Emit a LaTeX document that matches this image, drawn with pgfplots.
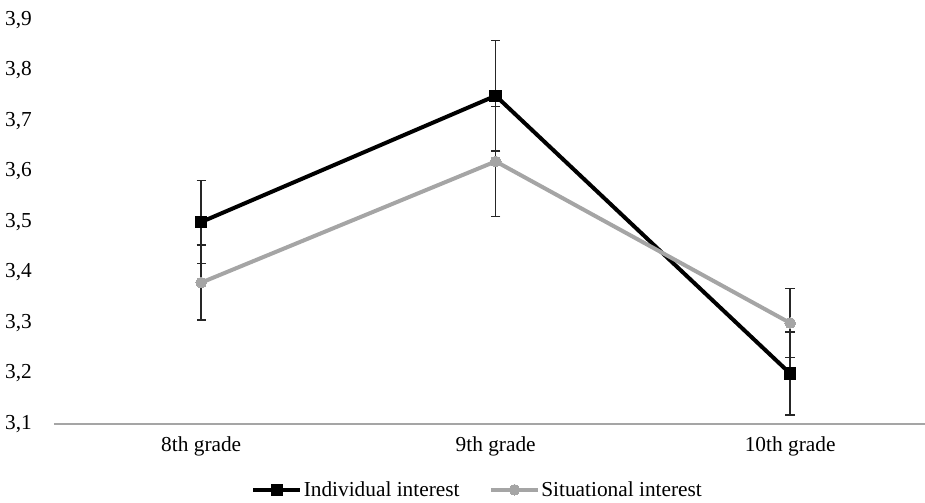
\documentclass[border=0pt]{standalone}
\usepackage{pgfplots}
\pgfplotsset{compat=1.18}
\usepackage{fontspec}
\setmainfont{Liberation Serif}
\definecolor{sgray}{HTML}{A5A5A5}
\begin{document}
\begin{tikzpicture}[x=1pt,y=1pt]
\begin{axis}[
  scale only axis,
  width=653.25pt, height=303pt,
  xmin=-0.5, xmax=2.458,
  ymin=3.1, ymax=3.9,
  ytick={3.1,3.2,...,3.9},
  xtick={0,1,2},
  xticklabels={8th grade,9th grade,10th grade},
  axis lines=left,
  x axis line style={draw=sgray, line width=1pt, -},
  y axis line style={draw=none},
  tick style={draw=none},
  /pgf/number format/assume math mode=true,
  /pgf/number format/use comma,
  /pgf/number format/fixed,
  /pgf/number format/fixed zerofill,
  /pgf/number format/precision=1,
  tick label style={font=\fontsize{16}{19}\selectfont},
  yticklabel style={xshift=-11pt},
  xticklabel style={yshift=-4pt},
  clip=false,
  legend columns=2,
  legend style={draw=none, fill=none, at={(0.486,-0.163)}, anchor=center,
    font=\fontsize{16}{19}\selectfont, /tikz/every even column/.append style={column sep=21pt},
    nodes={inner xsep=1pt}, inner sep=0pt},
  legend image code/.code={\draw[mark repeat=2,mark phase=2] plot coordinates {(0cm,0cm) (0.62cm,0cm) (1.24cm,0cm)};},
]
% error bars first
\addplot[forget plot, draw=none, mark=none,
  error bars/.cd, y dir=both, y explicit,
  error bar style={draw=black!85, solid, line width=1.1pt},
  error mark options={rotate=90, mark size=3.5pt, draw=black!85, line width=1.1pt}]
  coordinates {(0,3.50) +- (0,0.082) (1,3.75) +- (0,0.109) (2,3.20) +- (0,0.082)};
\addplot[forget plot, draw=none, mark=none,
  error bars/.cd, y dir=both, y explicit,
  error bar style={draw=black!85, solid, line width=1.1pt},
  error mark options={rotate=90, mark size=3.5pt, draw=black!85, line width=1.1pt}]
  coordinates {(0,3.38) +- (0,0.074) (1,3.62) +- (0,0.109) (2,3.30) +- (0,0.068)};
\addplot[black, line width=3pt, mark=square*, mark size=4.3pt, mark options={solid, line width=0pt}]
  coordinates {(0,3.50) (1,3.75) (2,3.20)};
\addlegendentry{Individual interest}
\addplot[sgray, line width=3pt, mark=*, mark size=4pt, mark options={solid, line width=0pt}]
  coordinates {(0,3.38) (1,3.62) (2,3.30)};
\addlegendentry{Situational interest}
\end{axis}
\pgfresetboundingbox
\path[use as bounding box] (-40.5pt,-59.25pt) rectangle (653.25pt,318pt);
\end{tikzpicture}
\end{document}
